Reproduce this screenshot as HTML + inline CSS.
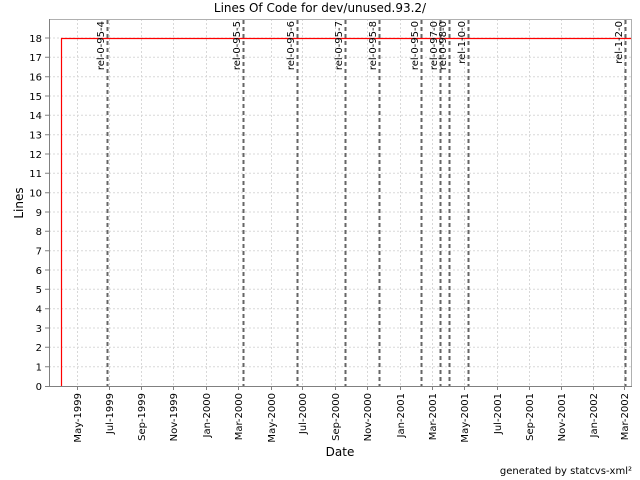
<!DOCTYPE html>
<html><head><meta charset="utf-8"><style>body{margin:0;background:#fff}svg{display:block;font-family:"DejaVu Sans","Liberation Sans",sans-serif}</style></head><body>
<svg width="640" height="480" viewBox="0 0 640 480">
<rect width="640" height="480" fill="#fff"/>
<text x="320" y="12" font-size="12" text-anchor="middle">Lines Of Code for dev/unused.93.2/</text>
<g stroke="#d8d8d8" stroke-dasharray="2,2" stroke-width="1">
<path d="M49 366.7H631M49 347.3H631M49 328H631M49 308.7H631M49 289.3H631M49 270H631M49 250.7H631M49 231.3H631M49 212H631M49 192.7H631M49 173.3H631M49 154H631M49 134.7H631M49 115.3H631M49 96H631M49 76.7H631M49 57.3H631M49 38H631"/>
<path d="M77.5 19V386M109.5 19V386M141.5 19V386M173.5 19V386M206.5 19V386M238.5 19V386M271.5 19V386M302.5 19V386M335.5 19V386M367.5 19V386M400.5 19V386M432.5 19V386M464.5 19V386M497.5 19V386M529.5 19V386M561.5 19V386M593.5 19V386M624.5 19V386"/>
</g>
<rect x="49.5" y="19.5" width="582" height="367" fill="none" stroke="#b0b0b0"/>
<path d="M49.5 19V387M48 386.5H632" stroke="#808080"/>
<g stroke="#808080"><path d="M45 386.5h4M45 366.7h4M45 347.3h4M45 328h4M45 308.7h4M45 289.3h4M45 270h4M45 250.7h4M45 231.3h4M45 212h4M45 192.7h4M45 173.3h4M45 154h4M45 134.7h4M45 115.3h4M45 96h4M45 76.7h4M45 57.3h4M45 38h4"/>
<path d="M77.5 387v3M109.5 387v3M141.5 387v3M173.5 387v3M206.5 387v3M238.5 387v3M271.5 387v3M302.5 387v3M335.5 387v3M367.5 387v3M400.5 387v3M432.5 387v3M464.5 387v3M497.5 387v3M529.5 387v3M561.5 387v3M593.5 387v3M624.5 387v3"/></g>
<g font-size="10" text-anchor="end">
<text x="42" y="390">0</text><text x="42" y="370.5">1</text><text x="42" y="351">2</text><text x="42" y="332">3</text><text x="42" y="312.5">4</text><text x="42" y="293">5</text><text x="42" y="274">6</text><text x="42" y="254.5">7</text><text x="42" y="235">8</text><text x="42" y="216">9</text><text x="42" y="196.5">10</text><text x="42" y="177">11</text><text x="42" y="158">12</text><text x="42" y="138.5">13</text><text x="42" y="119">14</text><text x="42" y="100">15</text><text x="42" y="80.5">16</text><text x="42" y="61">17</text><text x="42" y="42">18</text>
</g>
<text transform="translate(23,203) rotate(-90)" font-size="12" text-anchor="middle">Lines</text>
<g font-size="10" text-anchor="end">
<text transform="translate(81,393) rotate(-90)">May-1999</text>
<text transform="translate(113,393) rotate(-90)">Jul-1999</text>
<text transform="translate(145,393) rotate(-90)">Sep-1999</text>
<text transform="translate(177,393) rotate(-90)">Nov-1999</text>
<text transform="translate(210,393) rotate(-90)">Jan-2000</text>
<text transform="translate(242,393) rotate(-90)">Mar-2000</text>
<text transform="translate(275,393) rotate(-90)">May-2000</text>
<text transform="translate(306,393) rotate(-90)">Jul-2000</text>
<text transform="translate(339,393) rotate(-90)">Sep-2000</text>
<text transform="translate(371,393) rotate(-90)">Nov-2000</text>
<text transform="translate(404,393) rotate(-90)">Jan-2001</text>
<text transform="translate(436,393) rotate(-90)">Mar-2001</text>
<text transform="translate(468,393) rotate(-90)">May-2001</text>
<text transform="translate(501,393) rotate(-90)">Jul-2001</text>
<text transform="translate(533,393) rotate(-90)">Sep-2001</text>
<text transform="translate(565,393) rotate(-90)">Nov-2001</text>
<text transform="translate(597,393) rotate(-90)">Jan-2002</text>
<text transform="translate(628,393) rotate(-90)">Mar-2002</text>
</g>
<text x="340" y="456" font-size="12" text-anchor="middle">Date</text>
<text x="632" y="474" font-size="10" text-anchor="end">generated by statcvs-xml²</text>
<g stroke="#666" stroke-width="2" stroke-dasharray="4,3">
<path d="M107.5 20V386M243.5 20V386M297.5 20V386M345.5 20V386M379.5 20V386M421.5 20V386M440.5 20V386M449.5 20V386M468.5 20V386M625.5 20V386"/>
</g>
<path d="M61.5 386V38.5H631" fill="none" stroke="#f00" stroke-width="1.2"/>
<g font-size="10" text-anchor="end">
<text transform="translate(104,21) rotate(-90)">rel-0-95-4</text>
<text transform="translate(240,21) rotate(-90)">rel-0-95-5</text>
<text transform="translate(294,21) rotate(-90)">rel-0-95-6</text>
<text transform="translate(342,21) rotate(-90)">rel-0-95-7</text>
<text transform="translate(376,21) rotate(-90)">rel-0-95-8</text>
<text transform="translate(418,21) rotate(-90)">rel-0-95-0</text>
<text transform="translate(437,21) rotate(-90)">rel-0-97-0</text>
<text transform="translate(446,21) rotate(-90)">rel-0-98-0</text>
<text transform="translate(465,21) rotate(-90)">rel-1-0-0</text>
<text transform="translate(622,21) rotate(-90)">rel-1-2-0</text>
</g>
</svg>
</body></html>
